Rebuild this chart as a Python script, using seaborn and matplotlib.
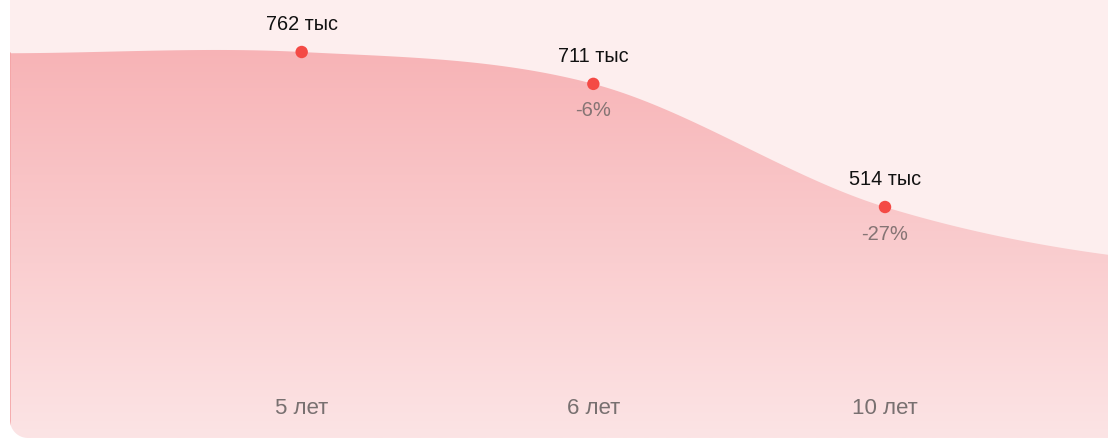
import numpy as np
import pandas as pd
import matplotlib
matplotlib.use("Agg")
import matplotlib.pyplot as plt
import seaborn as sns
from matplotlib.colors import LinearSegmentedColormap
from matplotlib.patches import Polygon

# ---- data ----
categories = ["5 лет", "6 лет", "10 лет"]
values = [762, 711, 514]
value_labels = ["762 тыс", "711 тыс", "514 тыс"]
change_labels = ["", "-6%", "-27%"]
# curve continuation beyond the shown points (edges of the panel)
edge_left = 760
edge_right = 425

sns.set_theme(style="white")
plt.rcParams["font.family"] = ["Liberation Sans", "DejaVu Sans"]

W, H = 1108, 438
fig = plt.figure(figsize=(W / 100, H / 100), dpi=100)
fig.patch.set_facecolor("white")

PANEL_L = 10
ax = fig.add_axes([PANEL_L / W, 0, 1 - PANEL_L / W, 1])
ax.set_facecolor("#fdeeee")
for s in ax.spines.values():
    s.set_visible(False)

step = 291.67  # px per category
xmax = (W - PANEL_L) / step
ymin, ymax = 144.4, 845.2
ax.set_xlim(0, xmax)
ax.set_ylim(ymin, ymax)

# full series incl. edge anchors
ys = np.array([edge_left] + values + [edge_right], dtype=float)

# Catmull-Rom (cardinal) tangents
n = len(ys)
t = np.zeros(n)
t[1:-1] = (ys[2:] - ys[:-2]) / 2
t[0] = (ys[1] - ys[0]) / 2
t[-1] = (ys[-1] - ys[-2]) / 2

def curve(xq):
    i = np.clip(np.floor(xq).astype(int), 0, n - 2)
    u = xq - i
    h00 = 2 * u**3 - 3 * u**2 + 1
    h10 = u**3 - 2 * u**2 + u
    h01 = -2 * u**3 + 3 * u**2
    h11 = u**3 - u**2
    return h00 * ys[i] + h10 * t[i] + h01 * ys[i + 1] + h11 * t[i + 1]

xq = np.linspace(0, xmax, 600)
yq = curve(xq)

# gradient area
poly_pts = np.vstack([np.column_stack([xq, yq]), [[xmax, ymin - 10], [0, ymin - 10]]])
clip = Polygon(poly_pts, closed=True, transform=ax.transData, facecolor="none", edgecolor="none")
ax.add_patch(clip)
cmap = LinearSegmentedColormap.from_list("g", ["#fce4e5", "#f7adb0"])
grad = np.linspace(0, 1, 256).reshape(-1, 1)
img = ax.imshow(grad, cmap=cmap, aspect="auto", origin="lower",
                extent=[0, xmax, ymin, ymax], zorder=1, interpolation="bilinear")
img.set_clip_path(clip)
ax.plot([0, 0], [ymin, curve(np.array([0.0]))[0]], color="#f4a3a5", lw=1.2, zorder=2)

# points
df = pd.DataFrame({"x": np.arange(1, len(values) + 1), "v": values})
sns.scatterplot(data=df, x="x", y="v", ax=ax, s=80, color="#f44a45",
                edgecolor="none", zorder=5, legend=False)

for i, (v, lab, ch) in enumerate(zip(values, value_labels, change_labels)):
    ax.annotate(lab, (i + 1, v), xytext=(0, 19.5), textcoords="offset points",
                ha="center", va="center", fontsize=14.3, color="#111111", zorder=6)
    if ch:
        ax.annotate(ch, (i + 1, v), xytext=(0, -19.5), textcoords="offset points",
                    ha="center", va="center", fontsize=14.5, color="#857474", zorder=6)

# category labels
ax.set_xticks([])
ax.set_yticks([])
ax.set_xlabel("")
ax.set_ylabel("")
for i, c in enumerate(categories):
    ax.text(i + 1, 0.068, c, transform=ax.get_xaxis_transform(), ha="center",
            va="center", fontsize=16, color="#787070", zorder=6)

# rounded bottom-left corner mask (figure pixels)
r = 18
th = np.linspace(np.pi, 1.5 * np.pi, 30)
arc = np.column_stack([PANEL_L + r + r * np.cos(th), r + r * np.sin(th)])
mask = np.vstack([[PANEL_L - 1, -1], [PANEL_L - 1, r], arc, [PANEL_L + r, -1]])
mpatch = Polygon(mask / np.array([W, H]), closed=True, transform=fig.transFigure,
                 facecolor="white", edgecolor="none", zorder=10)
fig.patches.append(mpatch)

fig.savefig("out.png", dpi=100, facecolor="white")
